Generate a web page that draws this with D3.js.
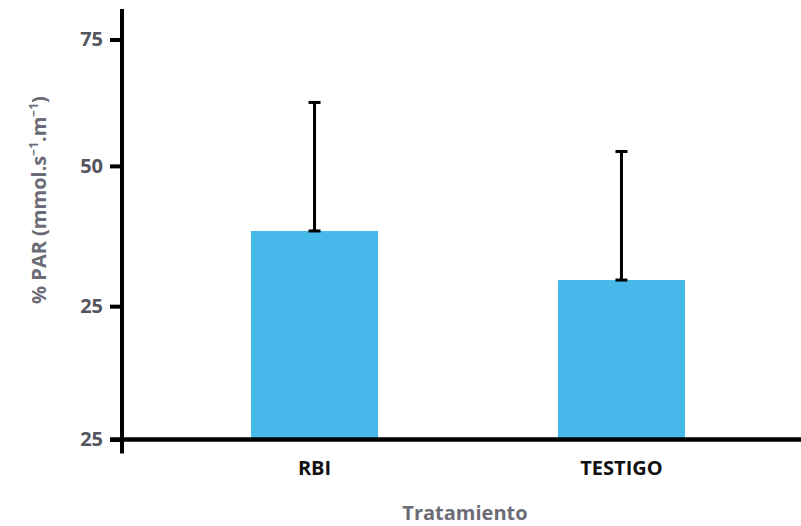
<!DOCTYPE html>
<html>
<head>
<meta charset="utf-8">
<script src="https://cdn.jsdelivr.net/npm/d3@7"></script>
<style>
  html, body { margin: 0; padding: 0; background: #ffffff; }
  svg { display: block; }
  text { font-family: "Open Sans", "DejaVu Sans", sans-serif; }
</style>
</head>
<body>
<svg id="chart" width="801" height="526"></svg>
<script>
// Treatments and their mean %PAR with upper error limit
const categories = ["RBI", "TESTIGO"];
const means = [39.1, 29.9];
const errorTops = [63.2, 54.0];

// Y axis ticks as printed on the axis
const tickValues = [0, 25, 51.3, 75];
const tickLabels = ["25", "25", "50", "75"];

// Y title pieces: [text, isSuperscript]
const yTitleParts = [["% PAR (mmol.s", false], ["\u22121", true], [".m", false], ["\u22121", true], [")", false]];
const xTitle = "Tratamiento";

const W = 801, H = 526;
const axisX = 122;
const yBottom = 439.5, yTop = 39.5;

const svg = d3.select("#chart");

const y = d3.scaleLinear().domain([0, 75]).range([yBottom, yTop]);
const x = d3.scaleBand()
  .domain(categories)
  .range([135, W])
  .paddingInner(0.586)
  .paddingOuter(0.378);

// Bars
svg.append("g")
  .selectAll("rect")
  .data(categories)
  .join("rect")
  .attr("x", d => x(d))
  .attr("width", x.bandwidth())
  .attr("y", (d, i) => y(means[i]))
  .attr("height", (d, i) => y(0) - y(means[i]))
  .attr("fill", "#46b9ea");

// Error bars from the bar top to the upper limit, capped at both ends
const eb = svg.append("g").attr("stroke", "#000").attr("stroke-width", 3);
categories.forEach((c, i) => {
  const cx = x(c) + x.bandwidth() / 2;
  const y0 = y(means[i]), y1 = y(errorTops[i]);
  eb.append("line").attr("x1", cx).attr("x2", cx).attr("y1", y0).attr("y2", y1);
  eb.append("line").attr("x1", cx - 6).attr("x2", cx + 6).attr("y1", y1).attr("y2", y1);
  eb.append("line").attr("x1", cx - 6).attr("x2", cx + 6).attr("y1", y0).attr("y2", y0);
});

// Y axis
const yAxis = d3.axisLeft(y)
  .tickValues(tickValues)
  .tickFormat((d, i) => tickLabels[i])
  .tickSize(12)
  .tickSizeOuter(0)
  .tickPadding(7);

const gy = svg.append("g").attr("transform", `translate(${axisX},0)`).call(yAxis);
gy.select(".domain").remove();
gy.selectAll(".tick line").attr("stroke", "#000").attr("stroke-width", 4);
gy.selectAll(".tick text")
  .attr("fill", "#54555e")
  .style("font-size", "20px")
  .style("font-weight", 700);

// Axis lines
svg.append("line")
  .attr("x1", axisX).attr("x2", axisX)
  .attr("y1", 9).attr("y2", yBottom + 14)
  .attr("stroke", "#000").attr("stroke-width", 4);
svg.append("line")
  .attr("x1", axisX - 12).attr("x2", W)
  .attr("y1", y(0)).attr("y2", y(0))
  .attr("stroke", "#000").attr("stroke-width", 4.5);

// Category labels
svg.append("g")
  .selectAll("text")
  .data(categories)
  .join("text")
  .attr("x", d => x(d) + x.bandwidth() / 2)
  .attr("y", 475)
  .attr("text-anchor", "middle")
  .attr("fill", "#111111")
  .style("font-size", "20px")
  .style("font-weight", 700)
  .text(d => d);

// Axis titles
svg.append("text")
  .attr("x", 465)
  .attr("y", 520)
  .attr("text-anchor", "middle")
  .attr("fill", "#6b6c75")
  .style("font-size", "20px")
  .style("font-weight", 700)
  .text(xTitle);

const yt = svg.append("text")
  .attr("transform", "translate(46,200) rotate(-90)")
  .attr("text-anchor", "middle")
  .attr("fill", "#6b6c75")
  .style("font-size", "20px")
  .style("font-weight", 700);
yt.selectAll("tspan")
  .data(yTitleParts)
  .join("tspan")
  .attr("dy", (d, i) => {
    const prevSup = i > 0 && yTitleParts[i - 1][1];
    if (d[1]) return -8;
    return prevSup ? 8 : 0;
  })
  .style("font-size", d => d[1] ? "12px" : null)
  .text(d => d[0]);
</script>
</body>
</html>
